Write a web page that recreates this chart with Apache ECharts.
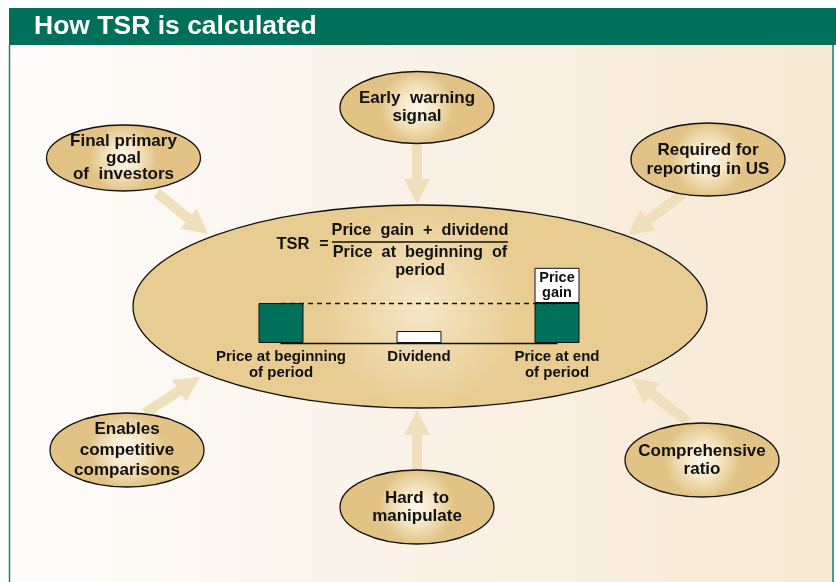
<!DOCTYPE html>
<html>
<head>
<meta charset="utf-8">
<script src="https://cdn.jsdelivr.net/npm/echarts@6/dist/echarts.min.js"></script>
<style>
html,body{margin:0;padding:0;background:#fff;}
#chart{width:836px;height:582px;}
</style>
</head>
<body>
<div id="chart"></div>
<script>
// ---- Data ----
const title = "How TSR is calculated";
const categories = ["Price at beginning\nof period", "Dividend", "Price at end\nof period"];
const priceValues = [100, null, 100];
const dividendValues = [null, 30, null];
const priceGainValues = [null, null, 88];
const priceGainLabel = "Price\ngain";
const formulaLeft = "TSR";
const formulaNumerator = "Price  gain  +  dividend";
const formulaDenominator = "Price  at  beginning  of\nperiod";
const bubbleLabels = [
  "Early  warning\nsignal",
  "Final primary\ngoal\nof  investors",
  "Required for\nreporting in US",
  "Enables\ncompetitive\ncomparisons",
  "Hard  to\nmanipulate",
  "Comprehensive\nratio"
];

// ---- Layout (positions/styles) ----
const bubbleLayout = [
  {cx:417, cy:107.5, rx:77, ry:36, lh:18},
  {cx:123.5, cy:158, rx:77, ry:33, lh:16.5},
  {cx:708, cy:159.5, rx:77, ry:36.5, lh:19},
  {cx:127, cy:450, rx:77, ry:37, lh:20.5},
  {cx:417, cy:507, rx:77, ry:37, lh:18},
  {cx:702, cy:460, rx:77, ry:37, lh:18}
];
const arrowLayout = [
  [417,144,417,204],
  [157,193,208,234],
  [683,194,628,235],
  [145,413,200,377],
  [417,471,417,410],
  [688,422,632,378]
];
const GREEN = '#00705a';
const FONT = 'Liberation Sans, Arial, Helvetica, sans-serif';

function arrowPoints(x1,y1,x2,y2){
  const shaftW=10, headW=26, headL=25;
  const dx=x2-x1, dy=y2-y1, len=Math.sqrt(dx*dx+dy*dy);
  const ux=dx/len, uy=dy/len, px=-uy, py=ux;
  const bx=x2-ux*headL, by=y2-uy*headL;
  return [
    [x1+px*shaftW/2, y1+py*shaftW/2],
    [bx+px*shaftW/2, by+py*shaftW/2],
    [bx+px*headW/2, by+py*headW/2],
    [x2, y2],
    [bx-px*headW/2, by-py*headW/2],
    [bx-px*shaftW/2, by-py*shaftW/2],
    [x1-px*shaftW/2, y1-py*shaftW/2]
  ];
}

const graphics = [];
// background
graphics.push({type:'rect', z:-10, shape:{x:10,y:45,width:822,height:537},
  style:{fill:{type:'linear',x:0,y:0,x2:1,y2:0,colorStops:[
    {offset:0,color:'#fefcfb'},{offset:0.5,color:'#faf2e7'},{offset:1,color:'#f6e9d3'}]}}});
// header
graphics.push({type:'rect', z:-9, shape:{x:9,y:8,width:827,height:37}, style:{fill:GREEN}});
graphics.push({type:'text', z:-8, style:{text:title, x:34, y:26.5, verticalAlign:'middle',
  font:'bold 26.5px '+FONT, fill:'#ffffff'}});
// borders
graphics.push({type:'line', z:-9, shape:{x1:9.5,y1:45,x2:9.5,y2:582}, style:{stroke:'#2b7f66',lineWidth:1.5}});
graphics.push({type:'line', z:-9, shape:{x1:833,y1:45,x2:833,y2:582}, style:{stroke:'#4f9a80',lineWidth:2}});
// arrows
arrowLayout.forEach(a=>{
  graphics.push({type:'polygon', z:-7, shape:{points:arrowPoints(a[0],a[1],a[2],a[3])},
    style:{fill:'#f0dfbb'}});
});
// central ellipse
graphics.push({type:'ellipse', z:-6, shape:{cx:420,cy:306.5,rx:287,ry:101.5},
  style:{fill:{type:'radial',x:0.5,y:0.5,r:0.5,colorStops:[
    {offset:0,color:'#f5e7c8'},{offset:1,color:'#e9cc92'}]}, stroke:'#111',lineWidth:1.3}});
// bubbles
bubbleLabels.forEach((t,i)=>{
  const b=bubbleLayout[i];
  graphics.push({type:'ellipse', z:-6, shape:{cx:b.cx,cy:b.cy,rx:b.rx,ry:b.ry},
    style:{fill:{type:'radial',x:0.5,y:0.5,r:0.5,colorStops:[
      {offset:0,color:'#fdf8ee'},{offset:0.45,color:'#f6e7c8'},{offset:1,color:'#e2c385'}]},
      stroke:'#111',lineWidth:1.3}});
  graphics.push({type:'text', z:-5, style:{text:t, x:b.cx, y:b.cy, align:'center', verticalAlign:'middle',
    font:'bold 17px '+FONT, lineHeight:b.lh, fill:'#111'}});
});
// formula
graphics.push({type:'text', z:-5, style:{text:formulaLeft, x:293, y:244, align:'center', verticalAlign:'middle',
  font:'bold 16.5px '+FONT, fill:'#111'}});
graphics.push({type:'text', z:-5, style:{text:'=', x:324, y:245, align:'center', verticalAlign:'middle',
  font:'bold 16px '+FONT, fill:'#111'}});
graphics.push({type:'text', z:-5, style:{text:formulaNumerator, x:420, y:231, align:'center', verticalAlign:'middle',
  font:'bold 16.3px '+FONT, fill:'#111'}});
graphics.push({type:'line', z:-5, shape:{x1:332,y1:242,x2:508,y2:242}, style:{stroke:'#111',lineWidth:1.3}});
graphics.push({type:'text', z:-5, style:{text:formulaDenominator, x:420, y:262, align:'center', verticalAlign:'middle',
  font:'bold 16.3px '+FONT, lineHeight:18, fill:'#111'}});

const chart = echarts.init(document.getElementById('chart'), null, {renderer:'canvas'});
chart.setOption({
  animation:false,
  graphic: graphics,
  grid:{left:281, right:279, top:263, bottom:239},
  xAxis:{type:'category', data:categories, boundaryGap:false,
    axisLine:{lineStyle:{color:'#111', width:1.3}}, axisTick:{show:false},
    axisLabel:{margin:6, color:'#111', fontFamily:FONT, fontWeight:'bold', fontSize:15, lineHeight:16, interval:0}},
  yAxis:{type:'value', min:0, max:200, show:false, splitLine:{show:false}},
  series:[
    {type:'bar', name:'Price', stack:'tsr', data:priceValues, barWidth:45, clip:false,
      itemStyle:{color:GREEN, borderColor:'#111', borderWidth:1},
      markLine:{silent:true, symbol:'none', label:{show:false},
        lineStyle:{type:[5,4], color:'#111', width:1.3},
        data:[[{coord:[0,100]},{coord:[2,100]}]]}},
    {type:'bar', name:'Dividend', stack:'tsr', data:dividendValues, barWidth:45, clip:false,
      itemStyle:{color:'#ffffff', borderColor:'#111', borderWidth:1}},
    {type:'bar', name:'Price gain', stack:'tsr', data:priceGainValues, barWidth:45, clip:false,
      itemStyle:{color:'#ffffff', borderColor:'#111', borderWidth:1},
      label:{show:true, position:'inside', formatter:priceGainLabel, color:'#111',
        fontFamily:FONT, fontWeight:'bold', fontSize:14.5, lineHeight:15}}
  ]
});
</script>
</body>
</html>
